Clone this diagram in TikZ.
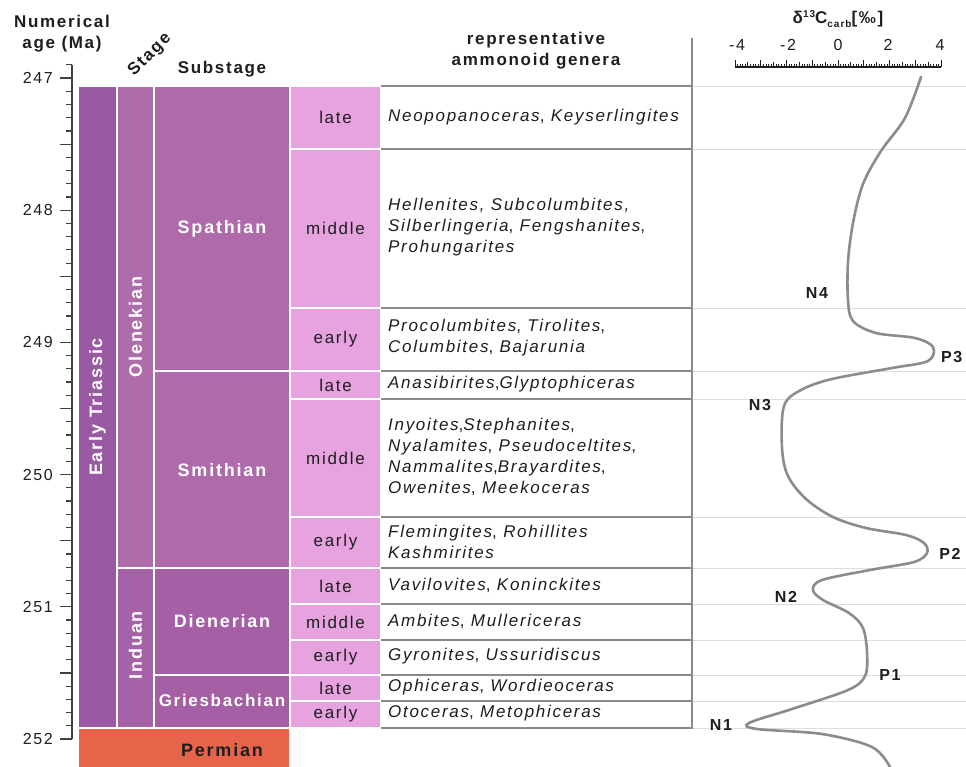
\documentclass[tikz,border=0pt]{standalone}
\usepackage{fontspec}
\setmainfont{Liberation Sans}[LetterSpace=10]
\definecolor{ET}{HTML}{9A59A3}
\definecolor{OL}{HTML}{AF6CAA}
\definecolor{IN}{HTML}{A662A6}
\definecolor{SUBA}{HTML}{AE6AAA}
\definecolor{SUBB}{HTML}{A45FA5}
\definecolor{DIV}{HTML}{E7A3DF}
\definecolor{PERM}{HTML}{E6654A}
\definecolor{txt}{HTML}{1E1E1E}
\definecolor{sepgray}{HTML}{8A8A8A}
\definecolor{gridgray}{HTML}{DDDDDD}
\definecolor{curvegray}{HTML}{8C8C8C}
\tikzset{
  box/.style={draw=white, line width=2pt},
  divlbl/.style={font=\fontsize{17}{21}\selectfont, text=txt, inner sep=0},
  amm/.style={anchor=west, align=left, font=\fontsize{17}{21}\selectfont\itshape, text=txt, inner sep=0},
  hdr/.style={font=\bfseries\fontsize{17}{21}\selectfont, text=txt, align=center, inner sep=0},
  wlbl/.style={font=\bfseries\fontsize{18}{21}\selectfont, text=white, inner sep=0},
  seprule/.style={draw=sepgray, line width=1.4pt},
  gridrule/.style={draw=gridgray, line width=1pt},
  curve/.style={draw=curvegray, line width=2.6pt, line cap=round},
  peak/.style={font=\bfseries\fontsize{16}{19}\selectfont, text=txt, inner sep=0},
  axlbl/.style={font=\fontsize{16}{19}\selectfont, text=txt, inner sep=0},
}
\begin{document}
\begin{tikzpicture}[x=1pt, y=-1pt]
\useasboundingbox (0,0) rectangle (966,766);
\fill[white] (0,0) rectangle (966,766);

% --- headers
\node[hdr] (hnum) at (62,34) {Numerical\\age (Ma)};
\node[hdr, rotate=45] (hstage) at (150,55) {Stage};
\node[hdr] (hsub) at (222,69) {Substage};
\node[hdr] (hamm) at (536,51) {representative\\ammonoid genera};

% --- age axis
\draw[draw=txt!85, line width=1.2pt] (72,64.8) -- (72,739);
\foreach \i in {0,...,51} {
  \pgfmathsetmacro{\yy}{64.8+13.22*\i}
  \pgfmathtruncatemacro{\m}{mod(\i-1,5)}
  \ifnum\m=0
    \draw[draw=txt!85, line width=1.2pt] (60,\yy) -- (72,\yy);
  \else
    \draw[draw=txt!85, line width=1.2pt] (66,\yy) -- (72,\yy);
  \fi
}
\node[axlbl, anchor=east] (a247) at (53,78) {247};
\node[axlbl, anchor=east] (a248) at (53,210.2) {248};
\node[axlbl, anchor=east] (a249) at (53,342.4) {249};
\node[axlbl, anchor=east] (a250) at (53,474.6) {250};
\node[axlbl, anchor=east] (a251) at (53,606.8) {251};
\node[axlbl, anchor=east] (a252) at (53,739) {252};

% --- chronostratigraphic columns
\filldraw[box, fill=ET] (78,86) rectangle (117,728);
\filldraw[box, fill=OL] (117,86) rectangle (154,568);
\filldraw[box, fill=IN] (117,568) rectangle (154,728);
\filldraw[box, fill=SUBA] (154,86) rectangle (290,371);
\filldraw[box, fill=SUBA] (154,371) rectangle (290,568);
\filldraw[box, fill=SUBB] (154,568) rectangle (290,675);
\filldraw[box, fill=SUBB] (154,675) rectangle (290,728);
\filldraw[box, fill=PERM] (78,728) rectangle (290,772);

\node[wlbl, rotate=90] (tri) at (97.5,407) {Early Triassic};
\node[wlbl, rotate=90] (ole) at (135.5,327) {Olenekian};
\node[wlbl, rotate=90] (ind) at (135.5,645) {Induan};
\node[wlbl] (spa) at (222,229) {Spathian};
\node[wlbl] (smi) at (222,470) {Smithian};
\node[wlbl] (die) at (222,621) {Dienerian};
\node[wlbl, font=\bfseries\fontsize{17}{21}\selectfont] (gri) at (222,700) {Griesbachian};
\node[wlbl, text=txt] (per) at (222,750) {Permian};

% --- substage subdivisions
\foreach \t/\b/\l [count=\k] in {86/149/late,149/308/middle,308/371/early,371/399/late,399/517/middle,517/568/early,568/604/late,604/640/middle,640/675/early,675/701/late,701/728/early} {
  \filldraw[box, fill=DIV] (290,\t) rectangle (381,\b);
  \node[divlbl] (d\k) at (335.5,{(\t+\b)/2}) {\l};
}

% --- separators
\foreach \y in {86,149,308,371,399,517,568,604,640,675,701,728} {
  \draw[seprule] (381,\y) -- (692,\y);
  \draw[gridrule] (693,\y) -- (966,\y);
}
\draw[draw=sepgray, line width=1.2pt] (692,38) -- (692,728.7);

% --- ammonoid genera
\node[amm] (g1) at (388,117.5) {Neopopanoceras\upshape, \itshape Keyserlingites};
\node[amm] (g2) at (388,227.5) {Hellenites, Subcolumbites,\\Silberlingeria\upshape, \itshape Fengshanites\upshape,\\\itshape Prohungarites};
\node[amm] (g3) at (388,338) {Procolumbites\upshape, \itshape Tirolites\upshape,\\\itshape Columbites\upshape, \itshape Bajarunia};
\node[amm] (g4) at (388,384.5) {Anasibirites\upshape,\itshape Glyptophiceras};
\node[amm] (g5) at (388,457) {Inyoites\upshape,\itshape Stephanites\upshape,\\\itshape Nyalamites\upshape, \itshape Pseudoceltites\upshape,\\\itshape Nammalites\upshape,\itshape Brayardites\upshape,\\\itshape Owenites\upshape, \itshape Meekoceras};
\node[amm] (g6) at (388,542) {Flemingites\upshape, \itshape Rohillites\\Kashmirites};
\node[amm] (g7) at (388,585.5) {Vavilovites\upshape, \itshape Koninckites};
\node[amm] (g8) at (388,621.5) {Ambites\upshape, \itshape Mullericeras};
\node[amm] (g9) at (388,656.5) {Gyronites\upshape, \itshape Ussuridiscus};
\node[amm] (g10) at (388,687) {Ophiceras\upshape, \itshape Wordieoceras};
\node[amm] (g11) at (388,713.5) {Otoceras\upshape, \itshape Metophiceras};

% --- carbon isotope scale
\node[font=\bfseries\fontsize{17}{19}\selectfont, text=txt, inner sep=0] (ctitle) at (838,19)
  {δ\raisebox{0.6ex}{\fontsize{10}{10}\selectfont 13}C\raisebox{-0.45ex}{\fontsize{10}{10}\selectfont carb}[‰]};
\draw[draw=txt, line width=1.3pt] (735,67) -- (941,67);
\foreach \i in {0,...,80} {
  \pgfmathsetmacro{\xx}{735+2.575*\i}
  \pgfmathtruncatemacro{\m}{mod(\i,10)}
  \pgfmathtruncatemacro{\h}{mod(\i,5)}
  \ifnum\m=0
    \draw[draw=txt, line width=0.9pt] (\xx,67) -- (\xx,59.5);
  \else\ifnum\h=0
    \draw[draw=txt, line width=0.9pt] (\xx,67) -- (\xx,61.5);
  \else
    \draw[draw=txt, line width=0.7pt] (\xx,67) -- (\xx,63.5);
  \fi\fi
}
\node[axlbl] (sm4) at (737,45) {-4};
\node[axlbl] (sm2) at (788,45) {-2};
\node[axlbl] (s0) at (838,45) {0};
\node[axlbl] (s2) at (888,45) {2};
\node[axlbl] (s4) at (940,45) {4};

% --- curve
\draw[curve] plot[smooth, tension=0.55] coordinates {
 (921,77) (905,118) (881,151) (863,184) (853,223) (848,262) (848,300)
 (853,321) (876,333) (915,338) (933,347) (928,361) (892,368) (832,379)
 (801,390) (784,406) (782,448) (788,476) (806,499) (833,517) (866,528)
 (906,535) (924,543) (927,553) (914,562) (870,570) (822,580) (813,590)
 (823,600) (849,613) (863,628) (867,653) (865,676) (848,690) (792,709)
 (749,723) (757,729) (822,734) (872,747) (890,767)};

\node[peak] (n4) at (817,293) {N4};
\node[peak, anchor=west] (p3) at (941,357) {P3};
\node[peak] (n3) at (760,405) {N3};
\node[peak] (p2) at (950,554) {P2};
\node[peak] (n2) at (786,597) {N2};
\node[peak] (p1) at (890,675) {P1};
\node[peak] (n1) at (721,725) {N1};
\end{tikzpicture}
\end{document}
